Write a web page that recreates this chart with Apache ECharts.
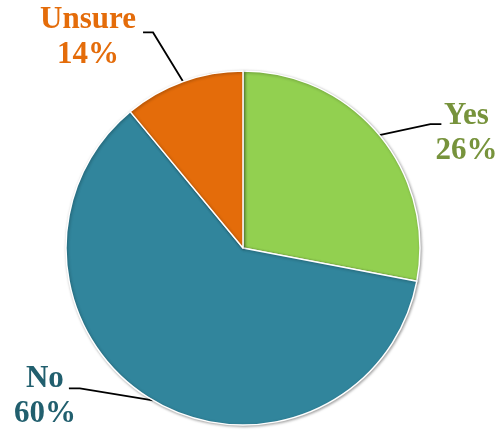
<!DOCTYPE html>
<html>
<head>
<meta charset="utf-8">
<script src="https://cdn.jsdelivr.net/npm/echarts@6/dist/echarts.min.js"></script>
<style>
html, body { margin: 0; padding: 0; background: #fff; }
#main { width: 502px; height: 432px; }
</style>
</head>
<body>
<div id="main"></div>
<script>
var categories = ['Yes', 'No', 'Unsure'];
var values = [28, 61, 11];
var shownPct = ['26%', '60%', '14%'];
var sliceColors = ['#92D050', '#31859C', '#E46C0A'];
var labelColors = ['#77933C', '#215F6E', '#E46C0A'];

// leader line bends, offsets from the point where the line leaves the slice
var leader = [
    { elbow: [51, -11], end: [62, -11], text: [87, -2] },
    { elbow: [-73, -12], end: [-84, -12], text: [-108, -4] },
    { elbow: [-30, -49], end: [-40, -49], text: [-95, -44] }
];

var myChart = echarts.init(document.getElementById('main'));

var pieData = categories.map(function (c, i) {
    return {
        name: c,
        value: values[i],
        itemStyle: { color: sliceColors[i] },
        label: { color: labelColors[i] }
    };
});

option = {
    animation: false,
    series: [
        {
            type: 'pie',
            center: [243, 248],
            radius: 177,
            startAngle: 90,
            clockwise: true,
            data: pieData,
            itemStyle: {
                borderColor: '#fff',
                borderWidth: 1.5,
                shadowBlur: 3,
                shadowOffsetX: 1,
                shadowOffsetY: 1,
                shadowColor: 'rgba(0,0,0,0.35)'
            },
            label: {
                show: true,
                position: 'outside',
                fontFamily: 'Liberation Serif',
                fontWeight: 'bold',
                fontSize: 31,
                lineHeight: 35,
                formatter: function (p) {
                    return p.name + '\n' + shownPct[p.dataIndex];
                }
            },
            labelLine: {
                show: true,
                length: 20,
                length2: 10,
                lineStyle: { color: '#000', width: 1.8 }
            },
            labelLayout: function (p) {
                var s = p.labelLinePoints[0];
                var o = leader[p.dataIndex];
                return {
                    x: s[0] + o.text[0],
                    y: s[1] + o.text[1],
                    align: 'center',
                    verticalAlign: 'middle',
                    labelLinePoints: [
                        [s[0], s[1]],
                        [s[0] + o.elbow[0], s[1] + o.elbow[1]],
                        [s[0] + o.end[0], s[1] + o.end[1]]
                    ]
                };
            },
            emphasis: { disabled: true }
        }
    ]
};
myChart.setOption(option);
</script>
</body>
</html>
